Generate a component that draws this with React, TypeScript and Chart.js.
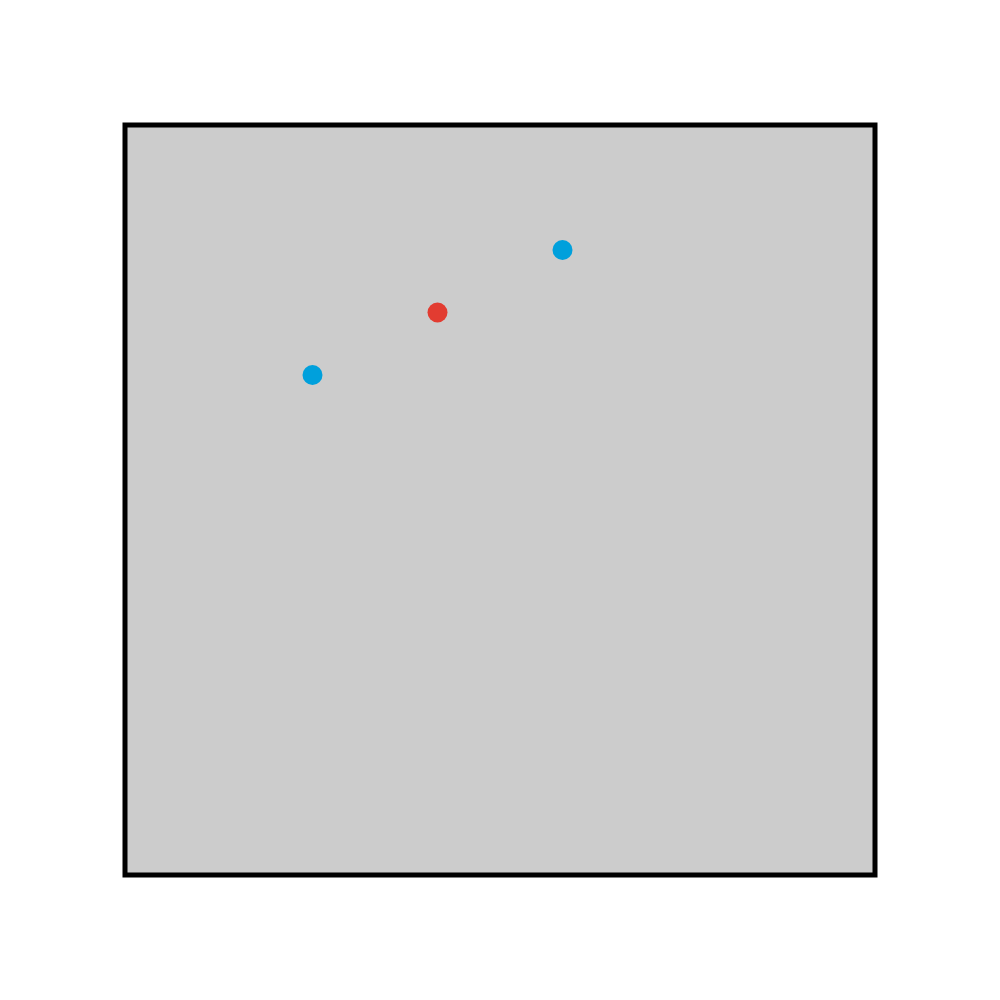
import React, { useEffect, useRef } from "react";
import { Chart, registerables } from "chart.js";

Chart.register(...registerables);

const xValues = [3, 5, 7];
const yValues = [8, 9, 10];
const pointColors = ["#00a0dc", "#e23c31", "#00a0dc"];
const axisMin = 0;
const axisMax = 12;

const framePlugin = {
  id: "frame",
  beforeDatasetsDraw(chart: any) {
    const { ctx, chartArea } = chart;
    const { left, top, right, bottom } = chartArea;
    ctx.save();
    ctx.fillStyle = "#cccccc";
    ctx.fillRect(left, top, right - left, bottom - top);
    ctx.lineWidth = 5;
    ctx.strokeStyle = "#000000";
    ctx.strokeRect(left, top, right - left, bottom - top);
    ctx.restore();
  },
};

export default function App() {
  const ref = useRef<HTMLCanvasElement | null>(null);
  useEffect(() => {
    document.body.style.margin = "0";
    const chart = new Chart(ref.current as HTMLCanvasElement, {
      type: "scatter",
      data: {
        datasets: [
          {
            data: xValues.map((x, i) => ({ x, y: yValues[i] })),
            pointBackgroundColor: pointColors,
            pointBorderWidth: 0,
            pointRadius: 10,
            pointHoverRadius: 10,
          },
        ],
      },
      options: {
        animation: false,
        responsive: false,
        layout: { padding: 125 },
        plugins: { legend: { display: false }, tooltip: { enabled: false } },
        scales: {
          x: { type: "linear", min: axisMin, max: axisMax, display: false },
          y: { type: "linear", min: axisMin, max: axisMax, display: false },
        },
      },
      plugins: [framePlugin],
    });
    return () => chart.destroy();
  }, []);
  return (
    <div style={{ position: "absolute", left: 0, top: 0, width: 1000, height: 1000, background: "#ffffff" }}>
      <canvas ref={ref} width={1000} height={1000} style={{ width: 1000, height: 1000 }} />
    </div>
  );
}
